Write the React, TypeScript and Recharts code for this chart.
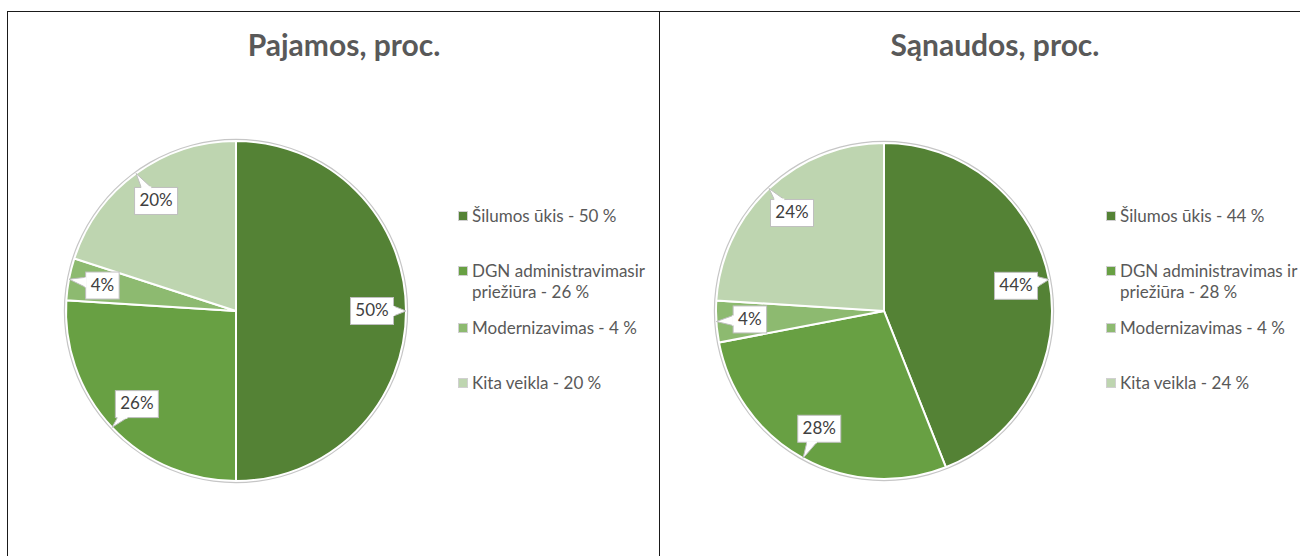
import { PieChart, Pie, Cell, Legend } from 'recharts';

// Pajamos (income) shares, %
const pajamosNames = ['Šilumos ūkis', 'DGN administravimasir priežiūra', 'Modernizavimas', 'Kita veikla'];
const pajamosValues = [50, 26, 4, 20];

// Sąnaudos (costs) shares, %
const sanaudosNames = ['Šilumos ūkis', 'DGN administravimas ir priežiūra', 'Modernizavimas', 'Kita veikla'];
const sanaudosValues = [44, 28, 4, 24];

const sliceColors = ['#548235', '#68a043', '#8dba70', '#bed5b0'];

const FONT = 'Lato, "Open Sans", sans-serif';
const TEXT = '#595959';
const RADIAN = Math.PI / 180;

// Excel-like callout label: white box with a little tail pointing at the arc
const CalloutLabel = (props: any) => {
  const { cx, cy, midAngle, outerRadius, value } = props;
  const cos = Math.cos(-midAngle * RADIAN);
  const sin = Math.sin(-midAngle * RADIAN);
  const bx = cx + outerRadius * 0.8 * cos;
  const by = cy + outerRadius * 0.8 * sin;
  const tx = cx + outerRadius * cos;
  const ty = cy + outerRadius * sin;
  const txt = `${value}%`;
  const w = String(value).length * 9.5 + 24;
  const h = 27;
  const hw = w / 2;
  const hh = h / 2;

  const dx = tx - bx;
  const dy = ty - by;
  const tX = dx !== 0 ? hw / Math.abs(dx) : Infinity;
  const tY = dy !== 0 ? hh / Math.abs(dy) : Infinity;
  const t = Math.min(tX, tY);
  let tail = null;
  if (t < 1) {
    const ex = bx + dx * t;
    const ey = by + dy * t;
    let p1: [number, number];
    let p2: [number, number];
    if (tX < tY) {
      const yy = Math.max(by - hh + 5, Math.min(by + hh - 5, ey));
      p1 = [ex, yy - 5];
      p2 = [ex, yy + 5];
    } else {
      const xx = Math.max(bx - hw + 5, Math.min(bx + hw - 5, ex));
      p1 = [xx - 5, ey];
      p2 = [xx + 5, ey];
    }
    tail = (
      <g>
        <polygon points={`${p1[0]},${p1[1]} ${tx},${ty} ${p2[0]},${p2[1]}`} fill="#fff" stroke="#bfbfbf" strokeWidth={1} />
        <line x1={p1[0]} y1={p1[1]} x2={p2[0]} y2={p2[1]} stroke="#fff" strokeWidth={2} />
      </g>
    );
  }

  return (
    <g>
      <rect x={bx - hw} y={by - hh} width={w} height={h} fill="#fff" stroke="#bfbfbf" strokeWidth={1} />
      {tail}
      <text
        x={bx}
        y={by + 1}
        textAnchor="middle"
        dominantBaseline="middle"
        fill="#404040"
        style={{ fontSize: 17, fontFamily: FONT }}
      >
        {txt}
      </text>
    </g>
  );
};

const itemGaps = [0, 34, 15, 34];

const renderLegend = (names: string[], values: number[]) => () => (
  <div style={{ fontFamily: FONT, fontSize: 17, color: TEXT, lineHeight: '21px' }}>
    {names.map((n, i) => (
      <div key={n} style={{ display: 'flex', alignItems: 'flex-start', marginTop: itemGaps[i] }}>
        <span
          style={{
            display: 'inline-block',
            width: 8,
            height: 8,
            marginTop: 6,
            marginRight: 4,
            background: sliceColors[i],
            border: '1px solid #d0d0d0',
            flex: 'none',
          }}
        />
        <span style={{ width: 200 }}>{`${n} - ${values[i]} %`}</span>
      </div>
    ))}
  </div>
);

type PanelProps = {
  title: string;
  names: string[];
  values: number[];
  cx: number;
  cy: number;
  r: number;
  titleCenter: number;
  legendLeft: number;
};

function PiePanel({ title, names, values, cx, cy, r, titleCenter, legendLeft }: PanelProps) {
  const data = names.map((name, i) => ({ name, value: values[i] }));
  return (
    <div style={{ position: 'relative', width: 651, height: 544 }}>
      <div
        style={{
          position: 'absolute',
          left: titleCenter - 200,
          width: 400,
          top: 14,
          textAlign: 'center',
          fontFamily: FONT,
          fontWeight: 700,
          fontSize: 30,
          lineHeight: '36px',
          color: TEXT,
        }}
      >
        {title}
      </div>
      <PieChart width={651} height={544} margin={{ top: 0, right: 0, bottom: 0, left: 0 }}>
        <Pie
          data={data}
          dataKey="value"
          nameKey="name"
          cx={cx}
          cy={cy}
          outerRadius={r}
          startAngle={90}
          endAngle={-270}
          stroke="#fff"
          strokeWidth={2}
          label={CalloutLabel}
          labelLine={false}
          isAnimationActive={false}
        >
          {data.map((d, i) => (
            <Cell key={d.name} fill={sliceColors[i]} />
          ))}
        </Pie>
        <Pie
          data={[{ name: 'ring', value: 1 }]}
          dataKey="value"
          cx={cx}
          cy={cy}
          innerRadius={r + 1}
          outerRadius={r + 2.2}
          startAngle={90}
          endAngle={-270}
          fill="#c6c6c6"
          stroke="none"
          legendType="none"
          isAnimationActive={false}
        />
        <Legend
          content={renderLegend(names, values)}
          wrapperStyle={{ position: 'absolute', left: legendLeft, top: 193, width: 220 }}
        />
      </PieChart>
    </div>
  );
}

export default function App() {
  return (
    <div
      style={{
        position: 'absolute',
        left: 0,
        top: 0,
        width: 1300,
        height: 556,
        overflow: 'hidden',
        background: '#fff',
      }}
    >
      <div
        style={{
          position: 'absolute',
          left: 7,
          top: 11,
          width: 651,
          height: 560,
          borderLeft: '1.5px solid #1a1a1a',
          borderTop: '1.5px solid #1a1a1a',
          borderRight: '1.5px solid #1a1a1a',
        }}
      >
        <PiePanel
          title="Pajamos, proc."
          names={pajamosNames}
          values={pajamosValues}
          cx={228}
          cy={299}
          r={170}
          titleCenter={336}
          legendLeft={450}
        />
      </div>
      <div
        style={{
          position: 'absolute',
          left: 660,
          top: 11,
          width: 700,
          height: 560,
          borderTop: '1.5px solid #1a1a1a',
        }}
      >
        <PiePanel
          title="Sąnaudos, proc."
          names={sanaudosNames}
          values={sanaudosValues}
          cx={224}
          cy={299}
          r={168}
          titleCenter={335}
          legendLeft={446}
        />
      </div>
    </div>
  );
}
